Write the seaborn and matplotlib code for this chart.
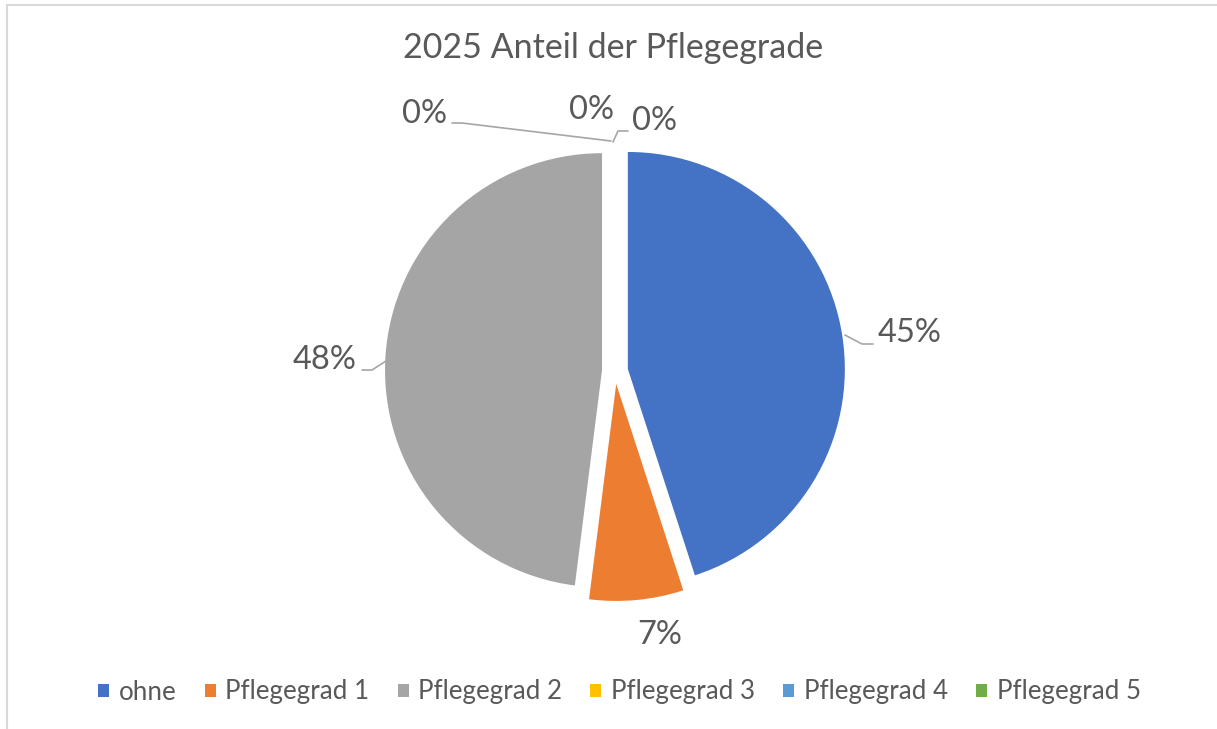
"""
Pie chart: 2025 Anteil der Pflegegrade.

Outputs:
    out.png
"""

import matplotlib.pyplot as plt
import seaborn as sns


# ---------------------------------------------------------------------
# Data
# ---------------------------------------------------------------------

TITLE = "2025 Anteil der Pflegegrade"
CATEGORIES = ["ohne", "Pflegegrad 1", "Pflegegrad 2",
              "Pflegegrad 3", "Pflegegrad 4", "Pflegegrad 5"]
SHARES = [45, 7, 48, 0, 0, 0]
COLORS = ["#4472C4", "#ED7D31", "#A5A5A5", "#FFC000", "#5B9BD5", "#70AD47"]

# ---------------------------------------------------------------------
# Layout (picture pixels, y measured from top)
# ---------------------------------------------------------------------

W, H = 1217, 729
PIE_CENTER = (615, 371)
PIE_RADIUS = 217
EXPLODE = 13  # matplotlib's explode offset is in data units here

# label anchor (x, y, ha) and optional leader line points
LABEL_POS = [
    (878, 333, "left"),
    (660, 635, "center"),
    (357, 360, "right"),
    (447, 114, "right"),
    (592, 110, "center"),
    (632, 121, "left"),
]
LEADERS = [
    [(845, 335), (862, 344), (873, 344)],
    None,
    [(386, 361), (372, 370), (362, 370)],
    [(611, 141), (462, 123), (452, 123)],
    None,
    [(613, 142), (618, 131), (628, 131)],
]

TEXT_COLOR = "#595959"
LINE_COLOR = "#A6A6A6"


def py(y):
    """Convert a top-based pixel y to the axes' y-up coordinate."""
    return H - y


def main():
    sns.set_theme(style="white")
    plt.rcParams["font.family"] = ["Lato", "DejaVu Sans"]

    fig = plt.figure(figsize=(W / 100, H / 100), dpi=100)
    ax = fig.add_axes([0, 0, 1, 1])

    # chart area border (only top and left edges are visible)
    ax.plot([7, W], [py(5), py(5)], color="#D9D9D9", lw=1.5)
    ax.plot([7, 7], [py(5), 0], color="#D9D9D9", lw=1.5)

    wedges, _ = ax.pie(
        SHARES,
        colors=COLORS,
        startangle=90,
        counterclock=False,
        explode=[EXPLODE] * len(SHARES),
        center=(PIE_CENTER[0], py(PIE_CENTER[1])),
        radius=PIE_RADIUS,
        wedgeprops={"linewidth": 0},
        frame=True,
    )
    ax.set_xlim(0, W)
    ax.set_ylim(0, H)
    ax.set_aspect("equal")
    ax.axis("off")

    total = sum(SHARES)
    for share, (x, y, ha), leader in zip(SHARES, LABEL_POS, LEADERS):
        ax.text(x, py(y), f"{share / total:.0%}", ha=ha, va="center",
                fontsize=23.5, color=TEXT_COLOR)
        if leader:
            xs = [p[0] for p in leader]
            ys = [py(p[1]) for p in leader]
            ax.plot(xs, ys, color=LINE_COLOR, lw=1.2)

    ax.text(W / 2 + 5, py(48), TITLE, ha="center", va="center",
            fontsize=24.5, color=TEXT_COLOR)

    ax.legend(
        wedges,
        CATEGORIES,
        loc="center",
        bbox_to_anchor=(0.509, 1 - 692 / H),
        ncol=6,
        frameon=False,
        fontsize=18.7,
        labelcolor=TEXT_COLOR,
        handlelength=0.42,
        handleheight=0.42,
        handletextpad=0.36,
        columnspacing=1.1,
    )

    fig.savefig("out.png", dpi=100)
    plt.close(fig)


if __name__ == "__main__":
    main()
